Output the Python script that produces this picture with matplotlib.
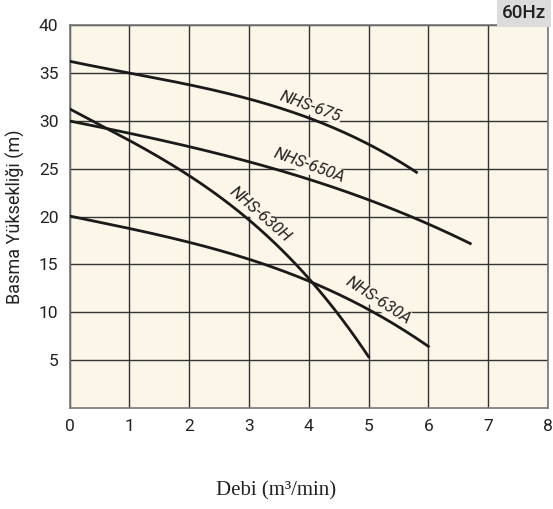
import matplotlib
matplotlib.use("Agg")
import matplotlib.pyplot as plt
import numpy as np

# Data
x_675 = [0, 1, 2, 3, 4, 5, 5.8]
y_675 = [36.2, 35.0, 33.8, 32.2, 30.3, 27.6, 24.6]
x_650A = [0, 1, 2, 3, 4, 5, 6, 6.7]
y_650A = [30.0, 28.6, 27.4, 25.8, 23.75, 21.7, 19.4, 17.1]
x_630H = [0, 1, 2, 3, 3.5, 4, 4.5, 5.0]
y_630H = [31.2, 28.1, 24.1, 19.9, 16.5, 13.5, 10.1, 5.2]
x_630A = [0, 1, 2, 3, 4, 5, 6]
y_630A = [20.0, 18.9, 17.3, 15.4, 13.3, 10.4, 6.4]

labels = ["NHS-675", "NHS-650A", "NHS-630H", "NHS-630A"]
label_pos = [(4.03, 31.5), (4.0, 25.3), (3.18, 20.2), (5.17, 11.2)]
label_rot = [-20, -20, -41, -33]

x_ticks = [0, 1, 2, 3, 4, 5, 6, 7, 8]
y_ticks = [5, 10, 15, 20, 25, 30, 35, 40]

plt.rcParams['font.family'] = ['Roboto', 'DejaVu Sans']

fig = plt.figure(figsize=(5.53, 5.09), dpi=100)
ax = fig.add_axes([0.1257, 0.198, 0.991 - 0.1257, 0.951 - 0.198])
bg = '#fcf6e9'
ax.set_facecolor(bg)

def smooth(xs, ys):
    xs = np.asarray(xs, float); ys = np.asarray(ys, float)
    t = np.linspace(xs[0], xs[-1], 200)
    c = np.polyfit(xs, ys, min(3, len(xs) - 1))
    return t, np.polyval(c, t)

for xs, ys in [(x_675, y_675), (x_650A, y_650A), (x_630H, y_630H), (x_630A, y_630A)]:
    t, v = smooth(xs, ys)
    ax.plot(t, v, color='#1a1a1a', lw=2.0, zorder=3)

for lab, (lx, ly), r in zip(labels, label_pos, label_rot):
    ax.text(lx, ly, lab, rotation=r, ha='center', va='center', fontsize=12,
            style='italic', color='#222222', zorder=4,
            bbox=dict(facecolor=bg, edgecolor='none', pad=0.5))

ax.set_xlim(0, 8)
ax.set_ylim(0, 40)
ax.set_xticks(x_ticks)
ax.set_yticks(y_ticks)
ax.grid(True, color='#333333', lw=1.0, zorder=1)
ax.set_axisbelow(True)
ax.tick_params(length=0, labelsize=12.5, pad=8, colors='#222222')
for s in ax.spines.values():
    s.set_color('#777777')
    s.set_linewidth(1.2)

ax.set_ylabel('Basma Yüksekliği (m)', fontsize=13, color='#222222', labelpad=10)
fig.text(0.5, 0.035, 'Debi (m³/min)', ha='center', va='center', fontsize=15,
         family=['Liberation Serif', 'DejaVu Serif'], color='#222222')

fig.text(0.988, 0.975, '60Hz', ha='right', va='center', fontsize=13.5, fontweight='medium',
         color='#222222',
         bbox=dict(facecolor='#dcdcdc', edgecolor='none', pad=3.5))

fig.savefig('out.png', dpi=100)
